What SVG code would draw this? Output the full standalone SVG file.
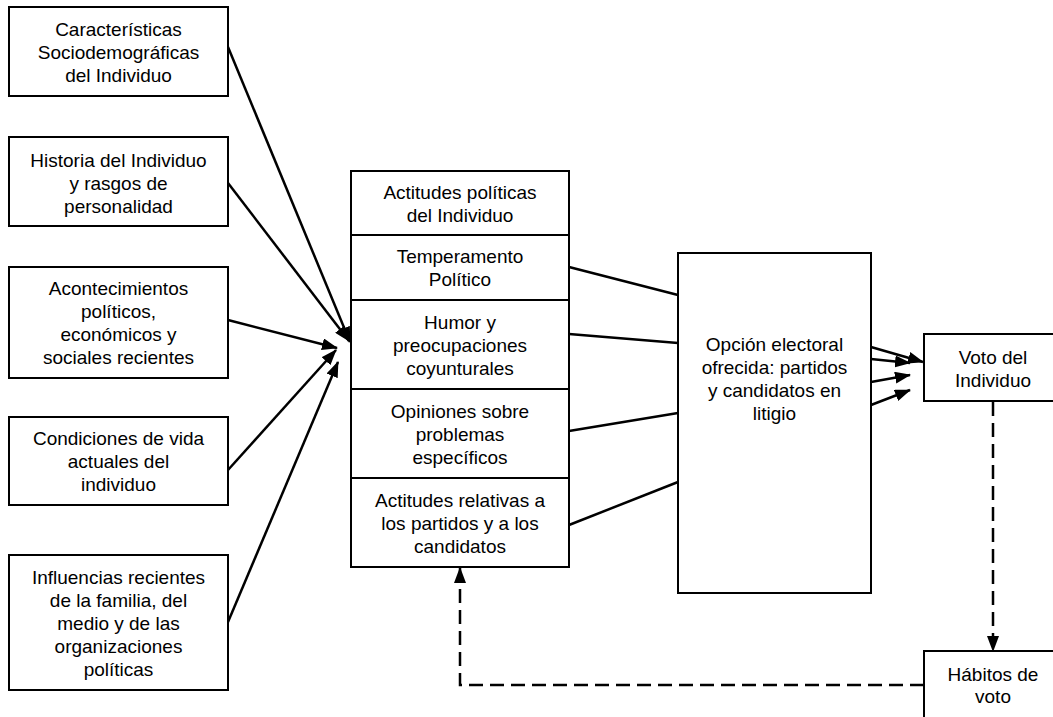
<svg xmlns="http://www.w3.org/2000/svg" width="1053" height="717" viewBox="0 0 1053 717">
  <style>
    .box { fill: #ffffff; stroke: #000000; stroke-width: 2; }
    .lbl { font-family: "Liberation Sans", Arial, sans-serif; font-size: 19px; fill: #000000; text-anchor: middle; }
    .link { fill: none; stroke: #000000; stroke-width: 2.5; }
    .dash { fill: none; stroke: #000000; stroke-width: 2.5; stroke-dasharray: 14 7; }
  </style>
  <defs>
    <marker id="arrow" viewBox="0 0 16 12" refX="15" refY="6" markerWidth="16" markerHeight="12" markerUnits="userSpaceOnUse" orient="auto">
      <path d="M0,0 L16,6 L0,12 Z" fill="#000000"/>
    </marker>
  </defs>
  <rect width="1053" height="717" fill="#ffffff"/>

  <!-- connectors -->
  <g id="connectors">
    <!-- influences into the attitudes block -->
    <line class="link" x1="228" y1="47" x2="350" y2="342" marker-end="url(#arrow)"/>
    <line class="link" x1="228" y1="183" x2="349" y2="341" marker-end="url(#arrow)"/>
    <line class="link" x1="228" y1="320" x2="337" y2="348" marker-end="url(#arrow)"/>
    <line class="link" x1="228" y1="470" x2="336" y2="350" marker-end="url(#arrow)"/>
    <line class="link" x1="228" y1="622" x2="338" y2="362" marker-end="url(#arrow)"/>
    <!-- attitudes to electoral option -->
    <line class="link" x1="569" y1="267" x2="678" y2="295"/>
    <line class="link" x1="569" y1="334" x2="678" y2="343"/>
    <line class="link" x1="569" y1="431" x2="678" y2="413"/>
    <line class="link" x1="569" y1="525" x2="678" y2="482"/>
    <!-- electoral option to vote -->
    <line class="link" x1="871" y1="347" x2="923" y2="362" marker-end="url(#arrow)"/>
    <line class="link" x1="871" y1="359" x2="910" y2="363" marker-end="url(#arrow)"/>
    <line class="link" x1="871" y1="382" x2="910" y2="375" marker-end="url(#arrow)"/>
    <line class="link" x1="871" y1="405" x2="910" y2="390" marker-end="url(#arrow)"/>
    <!-- feedback through voting habits -->
    <line class="dash" x1="993" y1="402" x2="993" y2="651" marker-end="url(#arrow)"/>
    <polyline class="dash" points="924,685 460,685 460,568" marker-end="url(#arrow)"/>
  </g>

  <g id="n-socio">
    <rect class="box" x="9" y="7" width="219" height="89"/>
    <text class="lbl" x="118.5" y="36">Características</text>
    <text class="lbl" x="118.5" y="59">Sociodemográficas</text>
    <text class="lbl" x="118.5" y="82">del Individuo</text>
  </g>
  <g id="n-historia">
    <rect class="box" x="9" y="137" width="219" height="89"/>
    <text class="lbl" x="118.5" y="167">Historia del Individuo</text>
    <text class="lbl" x="118.5" y="190">y rasgos de</text>
    <text class="lbl" x="118.5" y="213">personalidad</text>
  </g>
  <g id="n-acontecimientos">
    <rect class="box" x="9" y="267" width="219" height="111"/>
    <text class="lbl" x="118.5" y="295">Acontecimientos</text>
    <text class="lbl" x="118.5" y="318">políticos,</text>
    <text class="lbl" x="118.5" y="341">económicos y</text>
    <text class="lbl" x="118.5" y="364">sociales recientes</text>
  </g>
  <g id="n-condiciones">
    <rect class="box" x="9" y="417" width="219" height="88"/>
    <text class="lbl" x="118.5" y="445">Condiciones de vida</text>
    <text class="lbl" x="118.5" y="468">actuales del</text>
    <text class="lbl" x="118.5" y="491">individuo</text>
  </g>
  <g id="n-influencias">
    <rect class="box" x="9" y="555" width="219" height="135"/>
    <text class="lbl" x="118.5" y="584">Influencias recientes</text>
    <text class="lbl" x="118.5" y="607">de la familia, del</text>
    <text class="lbl" x="118.5" y="630">medio y de las</text>
    <text class="lbl" x="118.5" y="653">organizaciones</text>
    <text class="lbl" x="118.5" y="676">políticas</text>
  </g>

  <g id="n-actitudes">
    <rect class="box" x="351" y="171" width="218" height="64"/>
    <text class="lbl" x="460" y="199">Actitudes políticas</text>
    <text class="lbl" x="460" y="222">del Individuo</text>
  </g>
  <g id="n-temperamento">
    <rect class="box" x="351" y="235" width="218" height="65"/>
    <text class="lbl" x="460" y="263">Temperamento</text>
    <text class="lbl" x="460" y="286">Político</text>
  </g>
  <g id="n-humor">
    <rect class="box" x="351" y="300" width="218" height="89"/>
    <text class="lbl" x="460" y="329">Humor y</text>
    <text class="lbl" x="460" y="352">preocupaciones</text>
    <text class="lbl" x="460" y="375">coyunturales</text>
  </g>
  <g id="n-opiniones">
    <rect class="box" x="351" y="389" width="218" height="89"/>
    <text class="lbl" x="460" y="418">Opiniones sobre</text>
    <text class="lbl" x="460" y="441">problemas</text>
    <text class="lbl" x="460" y="464">específicos</text>
  </g>
  <g id="n-relativas">
    <rect class="box" x="351" y="478" width="218" height="89"/>
    <text class="lbl" x="460" y="507">Actitudes relativas a</text>
    <text class="lbl" x="460" y="530">los partidos y a los</text>
    <text class="lbl" x="460" y="553">candidatos</text>
  </g>

  <g id="n-opcion">
    <rect class="box" x="678" y="253" width="193" height="340"/>
    <text class="lbl" x="774.5" y="351">Opción electoral</text>
    <text class="lbl" x="774.5" y="374">ofrecida: partidos</text>
    <text class="lbl" x="774.5" y="397">y candidatos en</text>
    <text class="lbl" x="774.5" y="420">litigio</text>
  </g>

  <g id="n-voto">
    <rect class="box" x="924" y="334" width="140" height="67"/>
    <text class="lbl" x="993" y="364">Voto del</text>
    <text class="lbl" x="993" y="387">Individuo</text>
  </g>

  <g id="n-habitos">
    <rect class="box" x="924" y="651" width="140" height="80"/>
    <text class="lbl" x="993" y="681">Hábitos de</text>
    <text class="lbl" x="993" y="703">voto</text>
  </g>
</svg>
